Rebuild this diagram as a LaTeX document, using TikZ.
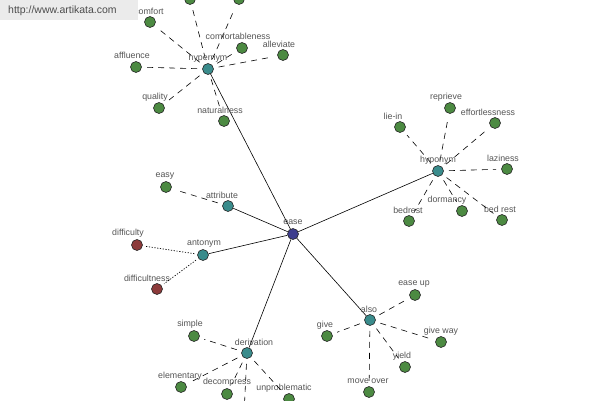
\documentclass[tikz,border=0pt]{standalone}
\usepackage{fontspec}
\setmainfont{Liberation Sans}
\definecolor{cleaf}{HTML}{4C8A42}
\definecolor{chub}{HTML}{3A8C8C}
\definecolor{croot}{HTML}{3E3E8E}
\definecolor{cbad}{HTML}{8C3A3A}
\definecolor{ctxt}{HTML}{555555}
\begin{document}
\begin{tikzpicture}[x=1pt,y=-1pt,
  dot/.style={circle,draw=black!85,line width=0.6pt,minimum size=11pt,inner sep=0pt},
  leaf/.style={dot,fill=cleaf},
  hub/.style={dot,fill=chub},
  root/.style={dot,fill=croot},
  bad/.style={dot,fill=cbad},
  lbl/.style={text=ctxt,font=\fontsize{8.8}{10}\selectfont,inner sep=0pt},
  main/.style={line width=0.6pt,black},
  dsh/.style={line width=0.6pt,black,dash pattern=on 6pt off 5pt,shorten <=5pt,shorten >=5pt},
  dtt/.style={line width=0.7pt,black,dash pattern=on 1.2pt off 1.6pt,shorten <=3pt,shorten >=3pt}]
\useasboundingbox[fill=white] (0,0) rectangle (600,400);
% hubs
\node[root] (ease) at (293,234) {};
\node[lbl] (l-ease) at (293,222) {ease};
\node[hub] (hypernym) at (208,69) {};
\node[hub] (hyponym) at (438,171) {};
\node[hub] (attribute) at (228,206) {};
\node[hub] (antonym) at (203,255) {};
\node[hub] (derivation) at (247,353) {};
\node[hub] (also) at (370,320) {};
\draw[main] (ease) -- (hypernym);
\draw[main] (ease) -- (hyponym);
\draw[main] (ease) -- (attribute);
\draw[main] (ease) -- (antonym);
\draw[main] (ease) -- (derivation);
\draw[main] (ease) -- (also);
% hypernym group
\foreach \n/\x/\y/\lx/\ly/\t in {
  comfort/150/22/149/11/comfort,
  topa/190/-1/190/-20/{},
  topb/239/-1/239/-20/{},
  comfortableness/242/48/238/36/comfortableness,
  alleviate/283/55/279/44/alleviate,
  affluence/136/67/132/55/affluence,
  quality/159/108/155/97/quality,
  naturalness/224/121/220/110/naturalness}{
  \node[leaf] (\n) at (\x,\y) {};
  \node[lbl] (l-\n) at (\lx,\ly) {\t};
  \draw[dsh] (hypernym) -- (\n);
}
\node[lbl] (l-hypernym) at (208,58) {hypernym};
% hyponym group
\foreach \n/\x/\y/\lx/\ly/\t in {
  liein/400/127/393/116/lie-in,
  reprieve/450/108/446/97/reprieve,
  effortlessness/495/123/488/112/effortlessness,
  laziness/507/169/503/158/laziness,
  dormancy/462/211/447/200/dormancy,
  bedrest2/502/220/500/209/bed rest,
  bedrest/409/221/408/210/bedrest}{
  \node[leaf] (\n) at (\x,\y) {};
  \node[lbl] (l-\n) at (\lx,\ly) {\t};
  \draw[dsh] (hyponym) -- (\n);
}
\node[lbl] (l-hyponym) at (438,160) {hyponym};
% attribute
\node[leaf] (easy) at (166,187) {};
\node[lbl] (l-easy) at (165,176) {easy};
\draw[dsh] (attribute) -- (easy);
\node[lbl] (l-attribute) at (222,195) {attribute};
% antonym
\node[bad] (difficulty) at (137,245) {};
\node[lbl] (l-difficulty) at (128,233) {difficulty};
\node[bad] (difficultness) at (157,289) {};
\node[lbl] (l-difficultness) at (147,278) {difficultness};
\draw[dtt] (antonym) -- (difficulty);
\draw[dtt] (antonym) -- (difficultness);
\node[lbl] (l-antonym) at (204,244) {antonym};
% derivation
\foreach \n/\x/\y/\lx/\ly/\t in {
  simple/194/336/190/324/simple,
  elementary/181/387/180/376/elementary,
  decompress/227/394/227/382/decompress,
  unproblematic/289/399/284/388/unproblematic,
  offd/244/414/244/432/{}}{
  \node[leaf] (\n) at (\x,\y) {};
  \node[lbl] (l-\n) at (\lx,\ly) {\t};
  \draw[dsh] (derivation) -- (\n);
}
\node[lbl] (l-derivation) at (254,342) {derivation};
% also
\foreach \n/\x/\y/\lx/\ly/\t in {
  easeup/415/295/414/284/ease up,
  give/327/336/325/325/give,
  giveway/441/342/441/331/give way,
  yield/405/367/402/356/yield,
  moveover/369/392/368/381/move over}{
  \node[leaf] (\n) at (\x,\y) {};
  \node[lbl] (l-\n) at (\lx,\ly) {\t};
  \draw[dsh] (also) -- (\n);
}
\node[lbl] (l-also) at (369,309) {also};
% watermark
\fill[black!8] (0,0) rectangle (138,20);
\node[text=black!70,font=\fontsize{10.5}{12}\selectfont,anchor=west,inner sep=0pt] (wm) at (8,11) {http://www.artikata.com};
\end{tikzpicture}
\end{document}
